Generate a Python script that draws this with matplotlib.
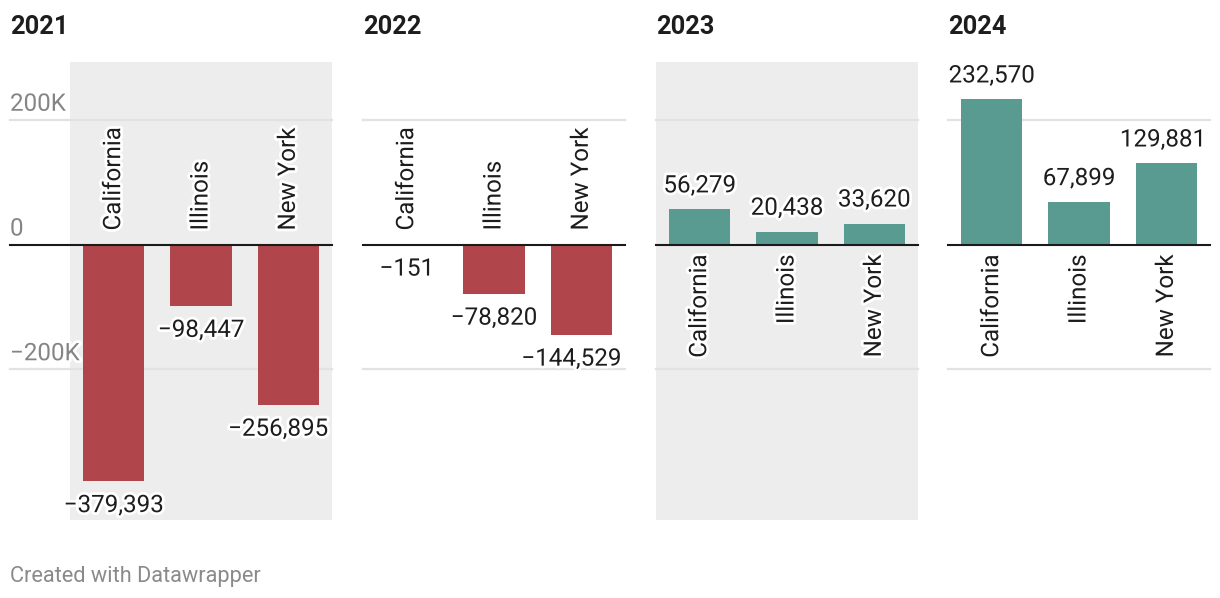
import matplotlib.pyplot as plt
import matplotlib.patheffects as pe

years = ["2021", "2022", "2023", "2024"]
states = ["California", "Illinois", "New York"]
values_2021 = [-379393, -98447, -256895]
values_2022 = [-151, -78820, -144529]
values_2023 = [56279, 20438, 33620]
values_2024 = [232570, 67899, 129881]
all_values = [values_2021, values_2022, values_2023, values_2024]
grid_ticks = [200000, 0, -200000]
grid_labels = ["200K", "0", "\u2212200K"]

RED = "#b0454b"
TEAL = "#599b91"
W, H = 1220, 598
FS = 17.4
plt.rcParams["font.family"] = ["Roboto", "DejaVu Sans"]

fig = plt.figure(figsize=(W / 100, H / 100), dpi=100)
renderer = fig.canvas.get_renderer()

panel_left = [70, 363, 656, 948]
shaded = [True, False, True, False]
halo = [pe.withStroke(linewidth=4, foreground="white")]
px = 72 / 100  # points per pixel

for i, (year, vals) in enumerate(zip(years, all_values)):
    left = panel_left[i]
    right = left + 262
    ax = fig.add_axes([left / W, (H - 520) / H, 262 / W, 458 / H])
    ax.set_facecolor("#ededed" if shaded[i] else "white")
    for s in ax.spines.values():
        s.set_visible(False)
    ax.set_xticks([])
    ax.set_yticks([])
    ax.set_xlim(-0.5, 2.5)
    ax.set_ylim(-441700, 292600)

    # gridlines (first panel runs under the axis labels)
    xmin = (10 - 70) / 262 if i == 0 else 0
    for t in grid_ticks:
        if t == 0:
            continue
        ax.axhline(t, xmin=xmin, xmax=1, color="#e2e2e2", lw=1.6, clip_on=False, zorder=0.5)

    colors = [RED if v < 0 else TEAL for v in vals]
    ax.bar(range(3), vals, width=0.7, color=colors, zorder=2)
    ax.axhline(0, xmin=xmin, xmax=1, color="#1a1a1a", lw=1.5, clip_on=False, zorder=3)

    for x, (name, v) in enumerate(zip(states, vals)):
        label = f"{v:,}".replace("-", "\u2212")
        off = -31 if v < 0 else 17
        txt = ax.annotate(label, (x, v), xytext=(0, off * px), textcoords="offset points",
                          ha="center", va="baseline", fontsize=FS, color="#1d1d1d",
                          path_effects=halo, zorder=4)
        # keep value labels inside the panel
        ext = txt.get_window_extent(renderer)
        if ext.x1 > right - 4:
            txt.set_position((-(ext.x1 - (right - 4)) * px, off * px))
        if v < 0:
            ax.annotate(name, (x, 0), xytext=(0, 14 * px), textcoords="offset points",
                        rotation=90, ha="center", va="bottom", fontsize=FS,
                        color="#1d1d1d", path_effects=halo, zorder=4)
        else:
            ax.annotate(name, (x, 0), xytext=(0, -10 * px), textcoords="offset points",
                        rotation=90, ha="center", va="top", fontsize=FS,
                        color="#1d1d1d", path_effects=halo, zorder=4)

    if i == 0:
        for t, lab in zip(grid_ticks, grid_labels):
            ax.annotate(lab, (xmin, t), xycoords=ax.get_yaxis_transform(),
                        xytext=(0, 9 * px), textcoords="offset points",
                        ha="left", va="baseline", fontsize=FS, color="#858585",
                        path_effects=halo, zorder=4)

    fig.text((left if i else 10) / W, 1 - 34 / H, year, ha="left", va="baseline",
             fontsize=18.3, fontweight="bold", color="#1d1d1d")

fig.text(10 / W, 1 - 582 / H, "Created with Datawrapper", ha="left", va="baseline",
         fontsize=15.7, color="#8a8a8a")

fig.savefig("out.png", dpi=100, facecolor="white")
